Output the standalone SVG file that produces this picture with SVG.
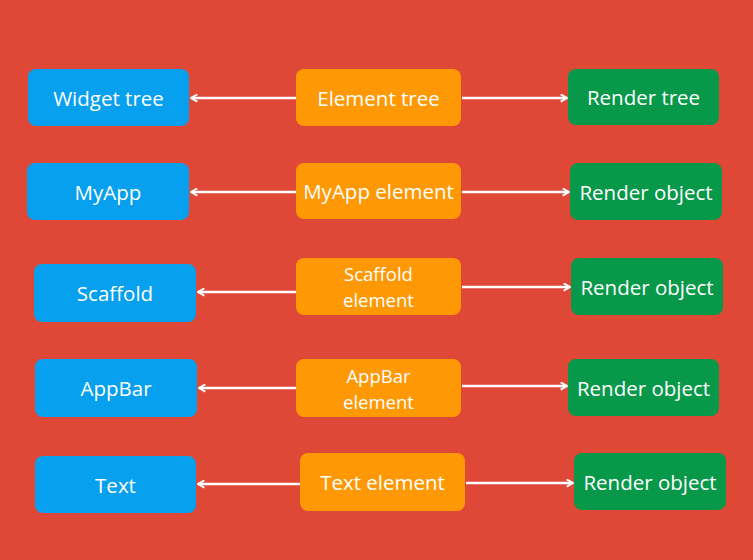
<svg xmlns="http://www.w3.org/2000/svg" width="753" height="560" viewBox="0 0 753 560">
<style>
.w{fill:#07A0EE}
.o{fill:#FE9905}
.g{fill:#07984A}
text{fill:#fff;font-family:"Open Sans","Noto Sans","Liberation Sans",sans-serif;font-size:20.5px;text-anchor:middle;dominant-baseline:central}
text.two{font-size:18.5px}
.c line{stroke:#fff;stroke-width:2.5;fill:none}
</style>
<defs>
<marker id="ah" viewBox="0 0 10 10" refX="9" refY="5" markerWidth="9" markerHeight="9" markerUnits="userSpaceOnUse" orient="auto-start-reverse">
<polyline points="2,1 9,5 2,9" fill="none" stroke="#fff" stroke-width="2.2"/>
</marker>
</defs>
<rect width="753" height="560" fill="#DF4737"/>
<g class="c">
<line x1="296" y1="98" x2="191" y2="98" marker-end="url(#ah)"/>
<line x1="462" y1="98" x2="567" y2="98" marker-end="url(#ah)"/>
<line x1="296" y1="192" x2="191" y2="192" marker-end="url(#ah)"/>
<line x1="462" y1="192" x2="569" y2="192" marker-end="url(#ah)"/>
<line x1="296" y1="292" x2="198" y2="292" marker-end="url(#ah)"/>
<line x1="462" y1="287" x2="570" y2="287" marker-end="url(#ah)"/>
<line x1="296" y1="388" x2="199" y2="388" marker-end="url(#ah)"/>
<line x1="462" y1="386" x2="567" y2="386" marker-end="url(#ah)"/>
<line x1="300" y1="484" x2="198" y2="484" marker-end="url(#ah)"/>
<line x1="466" y1="483" x2="573" y2="483" marker-end="url(#ah)"/>
</g>
<g id="widget-tree"><rect class="w" x="28" y="69" width="161" height="57" rx="8"/><text x="108.5" y="97.5">Widget tree</text></g>
<g id="element-tree"><rect class="o" x="296" y="69" width="165" height="57" rx="8"/><text x="378.5" y="97.5">Element tree</text></g>
<g id="render-tree"><rect class="g" x="568" y="69" width="151" height="56" rx="8"/><text x="643.5" y="97">Render tree</text></g>
<g id="myapp"><rect class="w" x="27" y="163" width="162" height="57" rx="8"/><text x="108" y="191.5">MyApp</text></g>
<g id="myapp-element"><rect class="o" x="296" y="163" width="165" height="56" rx="8"/><text x="378.5" y="191">MyApp element</text></g>
<g id="render-object-1"><rect class="g" x="570" y="163" width="152" height="57" rx="8"/><text x="646" y="191.5">Render object</text></g>
<g id="scaffold"><rect class="w" x="34" y="264" width="162" height="58" rx="8"/><text x="115" y="293">Scaffold</text></g>
<g id="scaffold-element"><rect class="o" x="296" y="258" width="165" height="57" rx="8"/><text class="two" x="378.5" y="273"><tspan x="378.5" y="273">Scaffold</tspan><tspan x="378.5" y="299">element</tspan></text></g>
<g id="render-object-2"><rect class="g" x="571" y="258" width="152" height="57" rx="8"/><text x="647" y="286.5">Render object</text></g>
<g id="appbar"><rect class="w" x="35" y="359" width="162" height="58" rx="8"/><text x="116" y="388">AppBar</text></g>
<g id="appbar-element"><rect class="o" x="296" y="359" width="165" height="58" rx="8"/><text class="two" x="378.5" y="375"><tspan x="378.5" y="375">AppBar</tspan><tspan x="378.5" y="401">element</tspan></text></g>
<g id="render-object-3"><rect class="g" x="568" y="359" width="151" height="57" rx="8"/><text x="643.5" y="387.5">Render object</text></g>
<g id="text"><rect class="w" x="35" y="456" width="161" height="57" rx="8"/><text x="115.5" y="484.5">Text</text></g>
<g id="text-element"><rect class="o" x="300" y="453" width="165" height="58" rx="8"/><text x="382.5" y="482">Text element</text></g>
<g id="render-object-4"><rect class="g" x="574" y="453" width="152" height="57" rx="8"/><text x="650" y="481.5">Render object</text></g>
</svg>
